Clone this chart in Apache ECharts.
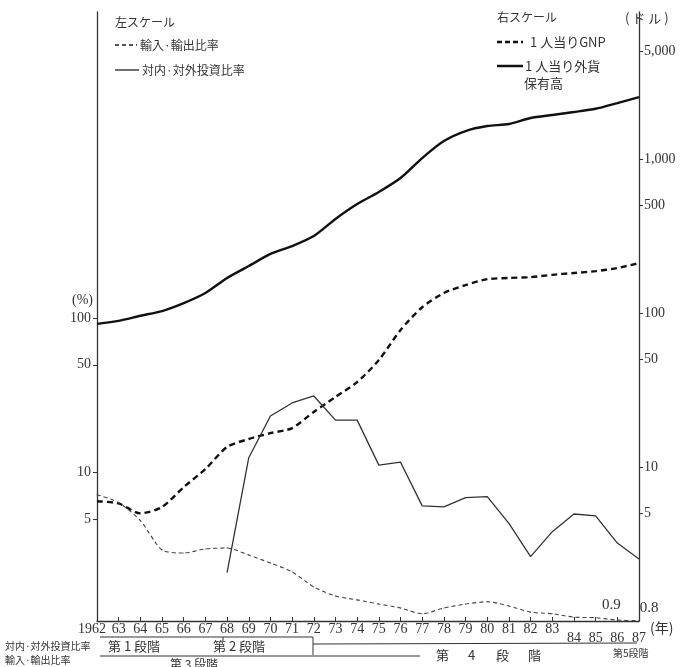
<!DOCTYPE html>
<html><head><meta charset="utf-8">
<script src="https://cdn.jsdelivr.net/npm/echarts@6/dist/echarts.min.js"></script>
<style>html,body{margin:0;padding:0;background:#fff}#c{width:681px;height:667px}</style>
</head><body><div id="c"></div>
<script>
// ---- data ----
const years = ['1962','63','64','65','66','67','68','69','70','71','72','73','74','75','76','77','78','79','80','81','82','83','84','85','86','87'];
// right scale (ドル)
const reservesPerCapita = [85, 89, 96, 103, 116, 135, 169, 202, 242, 272, 316, 408, 510, 611, 753, 1015, 1309, 1520, 1638, 1688, 1847, 1932, 2020, 2122, 2311, 2528];
const gnpPerCapita = [6.0, 5.8, 5.0, 5.5, 7.4, 9.7, 13.5, 15.2, 16.6, 17.9, 22.8, 28.5, 35.6, 49.5, 77.6, 109, 135, 152, 166, 169, 171, 177, 182, 187, 196, 211];
// left scale (%)
const investRatio = [null, null, null, null, null, null, 2.25, 12.5, 23.3, 28.3, 31.4, 21.9, 21.9, 11.2, 11.7, 6.1, 6.0, 6.9, 7.0, 4.7, 2.86, 4.15, 5.4, 5.25, 3.5, 2.76];
const importExportRatio = [7.2, 6.4, 4.9, 3.16, 3.02, 3.21, 3.25, 2.93, 2.6, 2.28, 1.82, 1.59, 1.5, 1.41, 1.33, 1.22, 1.33, 1.41, 1.46, 1.37, 1.25, 1.22, 1.16, 1.15, 1.11, 1.1];
const importExportNotes = ['', '', '', '', '', '', '', '', '', '', '', '', '', '', '', '', '', '', '', '', '', '', '', '', '0.9', '0.8'];
const leftTicks = [5, 10, 50, 100];
const rightTicks = [5, 10, 50, 100, 500, 1000, 5000];
const lowLabelYears = ['84', '85', '86', '87'];

const SERIF = '"Liberation Serif", "DejaVu Serif", "Noto Sans CJK JP", serif';
const JP = '"Noto Sans CJK JP", "Liberation Serif", serif';
const TXT = '#333';

function fmtNum(v) {
  const r = Math.round(v);
  return String(r).replace(/\B(?=(\d{3})+(?!\d))/g, ',');
}

const noteOffsets = { '0.9': [-6, -15], '0.8': [10, -13] };
const importExportData = importExportRatio.map((v, i) => {
  const n = importExportNotes[i];
  if (!n) return v;
  return { value: v, label: { show: true, formatter: n, position: 'inside', offset: noteOffsets[n], fontSize: 15, fontFamily: SERIF, color: TXT } };
});

function txt(text, x, y, size, opts) {
  return Object.assign({
    type: 'text', x: x, y: y, silent: true,
    style: { text: text, font: size + 'px ' + JP, fill: TXT, textAlign: 'left', textVerticalAlign: 'middle' }
  }, opts || {});
}
function ln(x1, y1, x2, y2, w, dash, color) {
  return { type: 'line', silent: true, shape: { x1, y1, x2, y2 },
    style: { stroke: color || '#222', lineWidth: w, lineDash: dash || null } };
}

const phase4 = [['第', 436], ['4', 468], ['段', 496], ['階', 528]];

const graphics = [
  // left legend
  txt('左スケール', 115, 22, 12),
  ln(115, 45, 137, 45, 1.3, [4, 3], '#222'),
  txt('輸入·輸出比率', 140, 45, 12),
  ln(115, 70, 139, 70, 1.3, null, '#222'),
  txt('対内·対外投資比率', 142, 70, 12),
  // right legend
  txt('右スケール', 497, 17, 12),
  ln(497, 42, 523, 42, 2.5, [5, 3], '#111'),
  txt('1 人当りGNP', 530, 42, 13),
  ln(497, 66, 523, 66, 2.5, null, '#111'),
  txt('1 人当り外貨', 525, 66, 13),
  txt('保有高', 524, 83, 13),
  // axis names
  txt('( ド ル )', 625, 18, 13),
  txt('(%)', 93, 300, 14, { style: { text: '(%)', font: '14px ' + SERIF, fill: TXT, textAlign: 'right', textVerticalAlign: 'middle' } }),
  txt('(年)', 650, 628, 14),
  // stage annotations
  txt('対内·対外投資比率', 5, 646, 10),
  txt('輸入·輸出比率', 5, 660, 10),
  ln(100, 637, 313, 637, 1, null, '#333'),
  ln(313, 637, 313, 655, 1, null, '#333'),
  ln(223, 637, 223, 641, 1, null, '#333'),
  ln(313, 644, 637, 643, 1, null, '#333'),
  ln(100, 656, 420, 656, 1, null, '#333'),
  txt('第 1 段階', 108, 646, 13),
  txt('第 2 段階', 213, 646, 13),
  txt('第 3 段階', 170, 664, 12),
  txt('第5段階', 613, 653, 10)
].concat(phase4.map(p => txt(p[0], p[1], 655, 13)));

const chart = echarts.init(document.getElementById('c'));
chart.setOption({
  backgroundColor: '#fff',
  animation: false,
  grid: { left: 97, right: 42, top: 12, bottom: 46 },
  xAxis: {
    type: 'category', data: years, boundaryGap: false,
    axisLine: { lineStyle: { color: '#333', width: 1.3 } },
    axisTick: { inside: true, length: 4, lineStyle: { color: '#333' } },
    axisLabel: {
      interval: 0, margin: 1, fontSize: 14, fontFamily: SERIF, color: TXT,
      formatter: (v, i) => i === 0 ? '{first|' + v + '}' : (lowLabelYears.indexOf(v) >= 0 ? '{low|' + v + '}' : v),
      rich: {
        low: { fontSize: 14, fontFamily: SERIF, color: TXT, padding: [9, 0, 0, 0] },
        first: { fontSize: 14, fontFamily: SERIF, color: TXT, padding: [0, 10, 0, 0] }
      }
    },
    splitLine: { show: false }
  },
  yAxis: [
    {
      type: 'log', position: 'left', min: 1.095, max: 9640,
      axisLine: { show: true, lineStyle: { color: '#333', width: 1.3 } },
      axisTick: { show: true, length: 4, customValues: leftTicks, lineStyle: { color: '#333' } },
      axisLabel: { customValues: leftTicks, formatter: v => fmtNum(v), fontSize: 14, fontFamily: SERIF, color: TXT, margin: 6 },
      splitLine: { show: false }, minorTick: { show: false }
    },
    {
      type: 'log', position: 'right', min: 1, max: 9016,
      axisLine: { show: true, lineStyle: { color: '#333', width: 1.3 } },
      axisTick: { show: true, length: 4, customValues: rightTicks, lineStyle: { color: '#333' } },
      axisLabel: { customValues: rightTicks, formatter: v => fmtNum(v), fontSize: 14, fontFamily: SERIF, color: TXT, margin: 5 },
      splitLine: { show: false }, minorTick: { show: false }
    }
  ],
  graphic: graphics,
  series: [
    { name: '1人当り外貨保有高', type: 'line', yAxisIndex: 1, data: reservesPerCapita, showSymbol: false, smooth: 0.25,
      lineStyle: { color: '#111', width: 2.4 } },
    { name: '1人当りGNP', type: 'line', yAxisIndex: 1, data: gnpPerCapita, showSymbol: false, smooth: 0.25,
      lineStyle: { color: '#111', width: 2.4, type: [6, 4] } },
    { name: '対内·対外投資比率', type: 'line', yAxisIndex: 0, data: investRatio, showSymbol: false,
      lineStyle: { color: '#333', width: 1.3 } },
    { name: '輸入·輸出比率', type: 'line', yAxisIndex: 0, data: importExportData, symbol: 'circle', symbolSize: 1, showSymbol: true, smooth: 0.25,
      itemStyle: { color: '#444' }, lineStyle: { color: '#444', width: 1.1, type: [4, 3] } }
  ]
});
</script></body></html>
